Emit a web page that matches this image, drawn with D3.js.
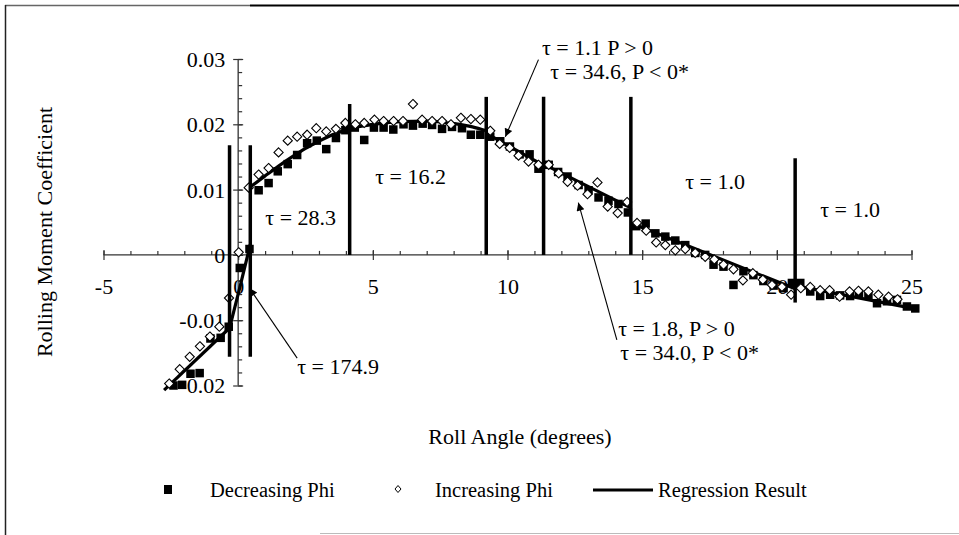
<!DOCTYPE html>
<html><head><meta charset="utf-8">
<script src="https://cdn.jsdelivr.net/npm/d3@7"></script>
<style>
body{margin:0;background:#fff}
svg{display:block}
text{font-family:"Liberation Serif","Times New Roman",serif;fill:#000}
</style>
</head><body>
<svg id="c" width="959" height="535"></svg>
<script>
// ---------- data ----------
const xTicks = [-5, 0, 5, 10, 15, 20, 25];
const yTicks = [0.03, 0.02, 0.01, 0, -0.01, -0.02];
const xTickLabels = ["-5", "0", "5", "10", "15", "20", "25"];
const yTickLabels = ["0.03", "0.02", "0.01", "0", "-0.01", "-0.02"];

const decreasingPhi = [
[-2.40,-0.0200],[-2.08,-0.0199],[-1.77,-0.0182],[-1.43,-0.0181],[-1.03,-0.0128],[-0.65,-0.0127],
[-0.35,-0.0110],[0.06,-0.0020],[0.42,0.0009],[0.76,0.0099],[1.13,0.0110],[1.47,0.0128],[1.84,0.0139],
[2.19,0.0153],[2.56,0.0171],[2.92,0.0175],[3.27,0.0162],[3.63,0.0179],[3.98,0.0191],[4.33,0.0195],
[4.68,0.0176],[5.04,0.0195],[5.40,0.0195],[5.76,0.0192],[6.14,0.0200],[6.49,0.0198],[6.85,0.0201],
[7.20,0.0199],[7.57,0.0193],[7.94,0.0196],[8.31,0.0194],[8.64,0.0184],[8.99,0.0184],[9.36,0.0181],
[9.73,0.0174],[10.09,0.0166],[10.45,0.0154],[10.82,0.0154],[11.15,0.0132],[11.53,0.0138],[11.88,0.0127],
[12.23,0.0120],[12.64,0.0107],[13.01,0.0099],[13.38,0.0088],[13.75,0.0083],[14.12,0.0078],[14.47,0.0065],
[14.78,0.0044],[15.13,0.0048],[15.49,0.0033],[15.86,0.0028],[16.23,0.0022],[16.60,0.0015],[16.97,0.0003],
[17.34,0.0000],[17.65,-0.0015],[18.02,-0.0018],[18.39,-0.0046],[18.76,-0.0025],[19.13,-0.0031],
[19.50,-0.0040],[19.88,-0.0047],[20.25,-0.0051],[20.56,-0.0043],[20.87,-0.0043],[21.24,-0.0056],
[21.61,-0.0063],[21.98,-0.0061],[22.35,-0.0062],[22.72,-0.0063],[23.05,-0.0060],[23.40,-0.0061],
[23.72,-0.0074],[24.09,-0.0071],[24.46,-0.0069],[24.83,-0.0079],[25.14,-0.0082]
];

const increasingPhi = [
[-2.56,-0.0197],[-2.17,-0.0175],[-1.80,-0.0156],[-1.42,-0.0140],[-1.05,-0.0125],[-0.70,-0.0110],
[-0.34,-0.0066],[0.02,0.0004],[0.39,0.0103],[0.76,0.0123],[1.13,0.0133],[1.50,0.0157],[1.84,0.0175],
[2.19,0.0181],[2.56,0.0184],[2.90,0.0194],[3.27,0.0189],[3.63,0.0193],[3.98,0.0202],[4.35,0.0200],
[4.68,0.0202],[5.06,0.0207],[5.40,0.0205],[5.77,0.0205],[6.12,0.0205],[6.49,0.0231],[6.83,0.0207],
[7.20,0.0205],[7.57,0.0205],[7.90,0.0200],[8.27,0.0210],[8.64,0.0208],[8.99,0.0207],[9.36,0.0190],
[9.71,0.0170],[10.08,0.0164],[10.41,0.0152],[10.78,0.0143],[11.15,0.0138],[11.53,0.0138],[11.90,0.0125],
[12.23,0.0112],[12.60,0.0106],[12.97,0.0093],[13.34,0.0111],[13.72,0.0074],[14.09,0.0064],[14.44,0.0081],
[14.81,0.0049],[15.15,0.0037],[15.52,0.0019],[15.86,0.0015],[16.23,0.0007],[16.60,0.0009],[16.97,0.0003],
[17.34,-0.0003],[17.68,-0.0007],[18.02,-0.0015],[18.39,-0.0022],[18.74,-0.0039],[19.11,-0.0028],
[19.48,-0.0038],[19.82,-0.0046],[20.19,-0.0049],[20.53,-0.0061],[20.89,-0.0051],[21.24,-0.0049],
[21.61,-0.0054],[21.96,-0.0054],[22.33,-0.0064],[22.70,-0.0056],[23.03,-0.0055],[23.40,-0.0056],
[23.77,-0.0061],[24.15,-0.0064],[24.48,-0.0068]
];

const regressionSegments = [
  [[-2.75,-0.0207],[-0.32,-0.0112]],
  [[-0.32,-0.0112],[0.06,-0.0050],[0.45,0.0016]],
  [[0.45,0.0104],[1.0,0.0121],[1.5,0.0136],[2.0,0.0150],[2.5,0.0163],[3.0,0.0174],[3.5,0.0184],[4.14,0.0193]],
  [[4.14,0.0194],[5.0,0.0200],[6.0,0.0204],[7.0,0.0205],[8.0,0.0201],[8.7,0.0196],[9.21,0.0190]],
  [[9.21,0.0186],[11.34,0.0137]],
  [[11.34,0.0139],[14.58,0.0072]],
  [[14.58,0.0049],[20.68,-0.0052]],
  [[20.68,-0.0047],[25.2,-0.0083]]
];

// breakpoint lines: roll angle, lower and upper coefficient
const breakAngles = [-0.32, 0.45, 4.14, 9.21, 11.34, 14.58, 20.68];
const breakLow    = [-0.0156, -0.0156, 0, 0, 0, 0, -0.0073];
const breakHigh   = [0.0168, 0.0168, 0.0231, 0.0242, 0.0242, 0.0242, 0.0148];

const tauLabels = ["τ = 28.3", "τ = 16.2", "τ = 1.1 P > 0", "τ = 34.6, P < 0*", "τ = 1.0", "τ = 1.0",
                   "τ = 174.9", "τ = 1.8, P > 0", "τ = 34.0, P < 0*"];
const legendLabels = ["Decreasing Phi", "Increasing Phi", "Regression Result"];

// ---------- drawing ----------
const svg = d3.select("#c");
const x = d3.scaleLinear().domain([-5, 25]).range([103.5, 911.5]);
const y = d3.scaleLinear().domain([-0.02, 0.03]).range([385.5, 59]);
const FS = 22;
const FONT = '"Liberation Serif","Times New Roman",serif';

// frame
svg.append("line").attr("x1",5).attr("x2",250).attr("y1",5.5).attr("y2",5.5).attr("stroke","#666").attr("stroke-width",1.5);
svg.append("line").attr("x1",250).attr("x2",959).attr("y1",5.5).attr("y2",5.5).attr("stroke","#000").attr("stroke-width",2);
svg.append("line").attr("x1",5.5).attr("x2",5.5).attr("y1",5).attr("y2",535).attr("stroke","#222").attr("stroke-width",1.5);
svg.append("line").attr("x1",320).attr("x2",959).attr("y1",533.5).attr("y2",533.5).attr("stroke","#bbb").attr("stroke-width",1);

// axes
const x0 = x(0), y0 = y(0);
const minorX = d3.range(-5, 26, 1);
const minorY = d3.range(-20, 31, 2).map(v => v / 1000);

const gxMinor = svg.append("g").attr("transform", `translate(0,${y0})`)
  .call(d3.axisTop(x).tickValues(minorX).tickSize(4).tickFormat(""));
const gx = svg.append("g").attr("transform", `translate(0,${y0})`)
  .call(d3.axisBottom(x).tickValues(xTicks).tickSize(5).tickFormat((d,i) => xTickLabels[i]));
gx.selectAll(".tick line").attr("y1", -5).attr("y2", 5);
gx.selectAll(".tick text").attr("y", 39).attr("dy", 0).style("font-size", FS + "px").style("font-family", FONT);

const gyMinor = svg.append("g").attr("transform", `translate(${x0},0)`)
  .call(d3.axisRight(y).tickValues(minorY).tickSize(4).tickFormat(""));
const gy = svg.append("g").attr("transform", `translate(${x0},0)`)
  .call(d3.axisLeft(y).tickValues(yTicks).tickSize(5).tickFormat((d,i) => yTickLabels[i]));
gy.selectAll(".tick line").attr("x1", -5).attr("x2", 5);
gy.selectAll(".tick text").attr("x", -13).attr("dy", "0.34em").style("font-size", FS + "px").style("font-family", FONT);

[gxMinor, gx, gyMinor, gy].forEach(g => {
  g.selectAll(".domain").attr("stroke", "#333").attr("stroke-width", 1.3);
  g.selectAll(".tick line").attr("stroke", "#333").attr("stroke-width", 1.2);
});
gxMinor.select(".domain").remove();
gyMinor.select(".domain").remove();
gx.select(".domain").attr("d", `M${x(-5)},0H${x(25)}`);
gy.select(".domain").attr("d", `M0,${y(0.03)}V${y(-0.02)}`);

// regression line
const line = d3.line().x(d => x(d[0])).y(d => y(d[1])).curve(d3.curveMonotoneX);
svg.append("g").selectAll("path").data(regressionSegments).join("path")
  .attr("d", line).attr("fill", "none").attr("stroke", "#000").attr("stroke-width", 3.2);

// decreasing phi squares
const sq = 8.5;
svg.append("g").selectAll("rect").data(decreasingPhi).join("rect")
  .attr("x", d => x(d[0]) - sq/2).attr("y", d => y(d[1]) - sq/2)
  .attr("width", sq).attr("height", sq).attr("fill", "#000");

// increasing phi diamonds
const dm = 4.6;
const diamond = `M0,${-dm}L${dm},0L0,${dm}L${-dm},0Z`;
svg.append("g").selectAll("path").data(increasingPhi).join("path")
  .attr("transform", d => `translate(${x(d[0])},${y(d[1])})`)
  .attr("d", diamond).attr("fill", "#fff").attr("stroke", "#000").attr("stroke-width", 1.1);

// breakpoint lines
svg.append("g").selectAll("line").data(breakAngles).join("line")
  .attr("x1", d => x(d)).attr("x2", d => x(d))
  .attr("y1", (d,i) => y(breakLow[i])).attr("y2", (d,i) => y(breakHigh[i]))
  .attr("stroke", "#000").attr("stroke-width", 3.5);

// annotation text (anchored in data coordinates)
const labelAnchors = [[1.01,0.0046],[5.09,0.0109],[11.28,0.0306],[11.59,0.0269],[16.6,0.0101],
                      [21.61,0.0058],[2.19,-0.0182],[14.11,-0.0124],[14.19,-0.0161]];
svg.append("g").selectAll("text").data(tauLabels).join("text")
  .attr("x", (d,i) => x(labelAnchors[i][0])).attr("y", (d,i) => y(labelAnchors[i][1]))
  .style("font-size", FS + "px").text(d => d);

// arrows
const defs = svg.append("defs");
defs.append("marker").attr("id","ah").attr("viewBox","0 0 10 10").attr("refX",10).attr("refY",5)
  .attr("markerWidth",12).attr("markerHeight",8).attr("markerUnits","userSpaceOnUse").attr("orient","auto")
  .append("path").attr("d","M0,0L10,5L0,10Z").attr("fill","#000");
const arrows = [[[11.15,0.0299],[9.92,0.0181]], [[2.19,-0.0158],[0.42,-0.0051]], [[14.06,-0.0130],[12.63,0.0080]]];
svg.append("g").selectAll("line").data(arrows).join("line")
  .attr("x1", d => x(d[0][0])).attr("y1", d => y(d[0][1]))
  .attr("x2", d => x(d[1][0])).attr("y2", d => y(d[1][1]))
  .attr("stroke", "#000").attr("stroke-width", 1.1).attr("marker-end", "url(#ah)");

// axis titles
svg.append("text").attr("x", 520).attr("y", 444).attr("text-anchor", "middle")
  .style("font-size", FS + "px").text("Roll Angle (degrees)");
svg.append("text").attr("transform", "translate(52,232) rotate(-90)").attr("text-anchor", "middle")
  .style("font-size", FS + "px").text("Rolling Moment Coefficient");

// legend
const LFS = 20.5;
const lg = svg.append("g");
lg.append("rect").attr("x", 164).attr("y", 485).attr("width", 8).attr("height", 9).attr("fill", "#000");
lg.append("text").attr("x", 210).attr("y", 497).style("font-size", LFS + "px").text(legendLabels[0]);
lg.append("path").attr("transform", "translate(398,489)").attr("d", "M0,-3.5L3,0L0,3.5L-3,0Z")
  .attr("fill", "#fff").attr("stroke", "#000").attr("stroke-width", 1);
lg.append("text").attr("x", 435).attr("y", 497).style("font-size", LFS + "px").text(legendLabels[1]);
lg.append("line").attr("x1", 593).attr("x2", 653).attr("y1", 490).attr("y2", 490).attr("stroke", "#000").attr("stroke-width", 3);
lg.append("text").attr("x", 658).attr("y", 497).style("font-size", LFS + "px").text(legendLabels[2]);
</script>
</body></html>
